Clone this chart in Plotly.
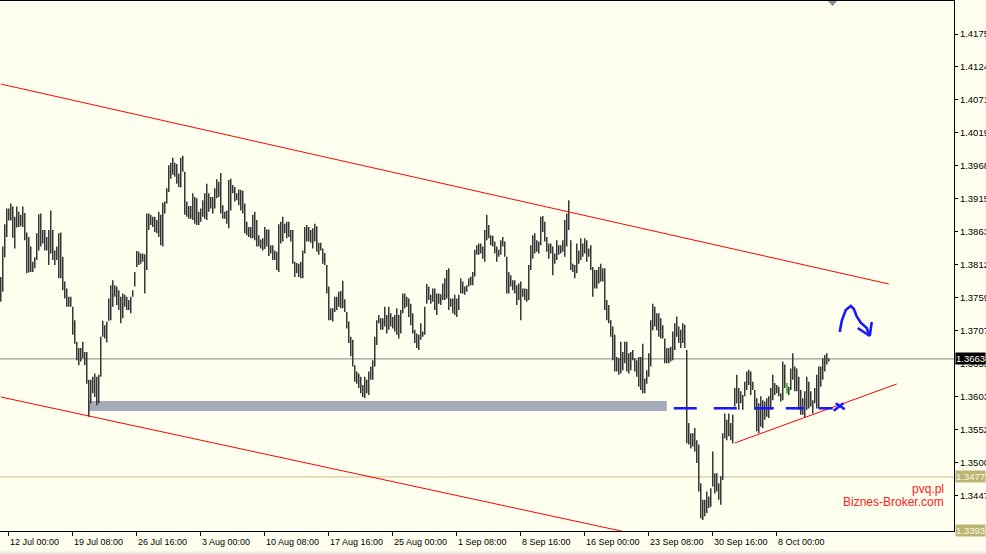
import plotly.graph_objects as go

# ---------------- data (H4 bars) ----------------
highs = [
    1.3792, 1.3840, 1.3875, 1.3900, 1.3900, 1.3908, 1.3903, 1.3887, 1.3903, 1.3895,
    1.3890, 1.3903, 1.3893, 1.3862, 1.3855, 1.3840, 1.3816, 1.3823, 1.3861, 1.3891,
    1.3892, 1.3866, 1.3866, 1.3855, 1.3866, 1.3897, 1.3866, 1.3834, 1.3840, 1.3861,
    1.3862, 1.3824, 1.3785, 1.3774, 1.3761, 1.3761, 1.3745, 1.3724, 1.3690, 1.3680,
    1.3680, 1.3690, 1.3674, 1.3674, 1.3630, 1.3630, 1.3635, 1.3640, 1.3635, 1.3638,
    1.3698, 1.3723, 1.3716, 1.3722, 1.3758, 1.3779, 1.3787, 1.3779, 1.3777, 1.3771,
    1.3761, 1.3766, 1.3764, 1.3761, 1.3756, 1.3761, 1.3771, 1.3800, 1.3833, 1.3832,
    1.3829, 1.3829, 1.3828, 1.3892, 1.3892, 1.3890, 1.3887, 1.3887, 1.3882, 1.3895,
    1.3890, 1.3909, 1.3911, 1.3932, 1.3968,
    1.3972, 1.3980, 1.3972, 1.3970, 1.3955, 1.3980, 1.3983, 1.3958, 1.3911, 1.3904,
    1.3904, 1.3924, 1.3918, 1.3916, 1.3895, 1.3900, 1.3913, 1.3924, 1.3939, 1.3924,
    1.3918, 1.3918, 1.3932, 1.3946, 1.3942, 1.3956, 1.3905, 1.3895, 1.3897, 1.3945,
    1.3947, 1.3937, 1.3934, 1.3924, 1.3930, 1.3929, 1.3928, 1.3908, 1.3879, 1.3871,
    1.3871, 1.3890, 1.3895, 1.3882, 1.3858, 1.3851, 1.3853, 1.3871, 1.3867, 1.3867,
    1.3842, 1.3842, 1.3834, 1.3832, 1.3875, 1.3879, 1.3887, 1.3876, 1.3879, 1.3879,
    1.3866, 1.3866, 1.3816, 1.3814, 1.3813, 1.3816, 1.3834, 1.3871, 1.3874, 1.3871,
    1.3866, 1.3869, 1.3876, 1.3872, 1.3846, 1.3846, 1.3837, 1.3830, 1.3811, 1.3777,
    1.3743, 1.3743, 1.3761,
    1.3761, 1.3769, 1.3770, 1.3786, 1.3757, 1.3737, 1.3722, 1.3698, 1.3693, 1.3653,
    1.3643, 1.3640, 1.3635, 1.3622, 1.3635, 1.3630, 1.3643, 1.3651, 1.3661, 1.3698,
    1.3724, 1.3732, 1.3727, 1.3727, 1.3745, 1.3732, 1.3745, 1.3735, 1.3729, 1.3732,
    1.3743, 1.3732, 1.3740, 1.3766, 1.3766, 1.3761, 1.3758, 1.3750, 1.3735, 1.3709,
    1.3703, 1.3701, 1.3719, 1.3706, 1.3745, 1.3781, 1.3777, 1.3764, 1.3774, 1.3774,
    1.3766, 1.3766, 1.3765, 1.3782, 1.3790, 1.3803, 1.3806, 1.3758, 1.3758, 1.3764,
    1.3758, 1.3764, 1.3790, 1.3785, 1.3777, 1.3779, 1.3790, 1.3793, 1.3800, 1.3835,
    1.3842, 1.3845, 1.3845, 1.3840, 1.3866, 1.3890, 1.3874, 1.3858, 1.3857, 1.3848,
    1.3840, 1.3835,
    1.3850, 1.3855, 1.3848, 1.3824, 1.3800, 1.3795, 1.3787, 1.3787, 1.3779, 1.3782,
    1.3785, 1.3774, 1.3774, 1.3773, 1.3811, 1.3842, 1.3858, 1.3861, 1.3850, 1.3848,
    1.3887, 1.3888, 1.3879, 1.3855, 1.3845, 1.3845, 1.3840, 1.3829, 1.3850, 1.3842,
    1.3842, 1.3850, 1.3882, 1.3892, 1.3913, 1.3850, 1.3813, 1.3811, 1.3845, 1.3834,
    1.3853, 1.3845, 1.3853, 1.3850, 1.3837, 1.3842, 1.3808, 1.3803, 1.3803, 1.3808,
    1.3813, 1.3806, 1.3806, 1.3756, 1.3748, 1.3724, 1.3714, 1.3701, 1.3666, 1.3664,
    1.3690, 1.3674, 1.3690, 1.3690, 1.3672, 1.3674, 1.3677, 1.3664, 1.3661, 1.3666,
    1.3666, 1.3687, 1.3632, 1.3645, 1.3672, 1.3724, 1.3750, 1.3745, 1.3735, 1.3735,
    1.3727, 1.3716, 1.3695,
    1.3680, 1.3680, 1.3682, 1.3706, 1.3719, 1.3730, 1.3714, 1.3709, 1.3719, 1.3717,
    1.3677, 1.3562, 1.3546, 1.3546, 1.3554, 1.3535, 1.3528, 1.3467, 1.3441, 1.3441,
    1.3454, 1.3446, 1.3459, 1.3517, 1.3483, 1.3483, 1.3467, 1.3478, 1.3546, 1.3577,
    1.3567, 1.3577, 1.3562, 1.3575, 1.3617, 1.3638, 1.3617, 1.3612, 1.3606, 1.3627,
    1.3643, 1.3646, 1.3643, 1.3627, 1.3614, 1.3601, 1.3593, 1.3604, 1.3598, 1.3596,
    1.3601, 1.3604, 1.3617, 1.3638, 1.3625, 1.3622, 1.3619, 1.3609, 1.3659, 1.3654,
    1.3625, 1.3619, 1.3648, 1.3672, 1.3651, 1.3648, 1.3635, 1.3614, 1.3601, 1.3612,
    1.3635, 1.3627, 1.3612, 1.3598, 1.3617, 1.3638, 1.3651, 1.3651, 1.3664, 1.3669,
    1.3672, 1.3664,
]

lows = [
    1.3753, 1.3769, 1.3823, 1.3855, 1.3881, 1.3881, 1.3854, 1.3837, 1.3870, 1.3871,
    1.3872, 1.3871, 1.3850, 1.3798, 1.3799, 1.3800, 1.3800, 1.3806, 1.3819, 1.3834,
    1.3840, 1.3845, 1.3834, 1.3834, 1.3811, 1.3829, 1.3819, 1.3811, 1.3819, 1.3790,
    1.3790, 1.3771, 1.3758, 1.3745, 1.3745, 1.3745, 1.3701, 1.3687, 1.3661, 1.3653,
    1.3659, 1.3664, 1.3653, 1.3624, 1.3572, 1.3593, 1.3609, 1.3603, 1.3590, 1.3593,
    1.3635, 1.3698, 1.3695, 1.3689, 1.3723, 1.3724, 1.3745, 1.3761, 1.3748, 1.3740,
    1.3719, 1.3727, 1.3745, 1.3740, 1.3740, 1.3735, 1.3761, 1.3777, 1.3808, 1.3811,
    1.3813, 1.3816, 1.3766, 1.3803, 1.3866, 1.3874, 1.3871, 1.3863, 1.3861, 1.3855,
    1.3842, 1.3840, 1.3892, 1.3908, 1.3926,
    1.3947, 1.3953, 1.3950, 1.3939, 1.3934, 1.3933, 1.3958, 1.3890, 1.3887, 1.3884,
    1.3884, 1.3882, 1.3876, 1.3874, 1.3874, 1.3879, 1.3887, 1.3884, 1.3882, 1.3895,
    1.3900, 1.3892, 1.3900, 1.3916, 1.3918, 1.3892, 1.3884, 1.3884, 1.3876, 1.3869,
    1.3897, 1.3924, 1.3911, 1.3913, 1.3905, 1.3897, 1.3892, 1.3861, 1.3858, 1.3855,
    1.3853, 1.3853, 1.3850, 1.3840, 1.3840, 1.3837, 1.3834, 1.3836, 1.3840, 1.3825,
    1.3829, 1.3819, 1.3819, 1.3803, 1.3800, 1.3845, 1.3848, 1.3861, 1.3853, 1.3855,
    1.3848, 1.3813, 1.3792, 1.3798, 1.3792, 1.3790, 1.3790, 1.3829, 1.3848, 1.3848,
    1.3846, 1.3837, 1.3848, 1.3832, 1.3827, 1.3834, 1.3813, 1.3811, 1.3766, 1.3724,
    1.3724, 1.3722, 1.3737,
    1.3740, 1.3745, 1.3743, 1.3743, 1.3737, 1.3711, 1.3688, 1.3667, 1.3651, 1.3627,
    1.3624, 1.3617, 1.3609, 1.3603, 1.3601, 1.3609, 1.3606, 1.3630, 1.3630, 1.3651,
    1.3685, 1.3719, 1.3709, 1.3709, 1.3714, 1.3703, 1.3709, 1.3714, 1.3711, 1.3706,
    1.3701, 1.3695, 1.3703, 1.3735, 1.3743, 1.3745, 1.3729, 1.3716, 1.3703, 1.3688,
    1.3680, 1.3677, 1.3693, 1.3698, 1.3701, 1.3750, 1.3756, 1.3750, 1.3753, 1.3740,
    1.3732, 1.3750, 1.3748, 1.3756, 1.3756, 1.3758, 1.3740, 1.3745, 1.3735, 1.3732,
    1.3729, 1.3740, 1.3766, 1.3766, 1.3764, 1.3769, 1.3777, 1.3779, 1.3779, 1.3793,
    1.3827, 1.3827, 1.3829, 1.3821, 1.3816, 1.3850, 1.3853, 1.3842, 1.3840, 1.3829,
    1.3816, 1.3824,
    1.3827, 1.3840, 1.3824, 1.3766, 1.3766, 1.3777, 1.3771, 1.3766, 1.3748, 1.3756,
    1.3724, 1.3761, 1.3756, 1.3753, 1.3756, 1.3803, 1.3821, 1.3829, 1.3832, 1.3829,
    1.3842, 1.3863, 1.3848, 1.3832, 1.3821, 1.3829, 1.3795, 1.3813, 1.3819, 1.3827,
    1.3829, 1.3832, 1.3824, 1.3840, 1.3866, 1.3803, 1.3800, 1.3790, 1.3798, 1.3813,
    1.3819, 1.3824, 1.3829, 1.3816, 1.3824, 1.3803, 1.3761, 1.3774, 1.3774, 1.3782,
    1.3785, 1.3785, 1.3740, 1.3724, 1.3719, 1.3698, 1.3661, 1.3643, 1.3643, 1.3638,
    1.3640, 1.3645, 1.3656, 1.3643, 1.3640, 1.3645, 1.3661, 1.3643, 1.3635, 1.3619,
    1.3614, 1.3609, 1.3609, 1.3624, 1.3635, 1.3651, 1.3708, 1.3714, 1.3708, 1.3698,
    1.3695, 1.3695, 1.3656,
    1.3656, 1.3656, 1.3659, 1.3661, 1.3677, 1.3698, 1.3688, 1.3680, 1.3688, 1.3680,
    1.3530, 1.3528, 1.3522, 1.3525, 1.3517, 1.3499, 1.3454, 1.3412, 1.3409, 1.3415,
    1.3420, 1.3428, 1.3430, 1.3462, 1.3451, 1.3454, 1.3441, 1.3433, 1.3472, 1.3538,
    1.3535, 1.3541, 1.3535, 1.3530, 1.3588, 1.3593, 1.3583, 1.3593, 1.3583, 1.3604,
    1.3614, 1.3622, 1.3606, 1.3614, 1.3583, 1.3549, 1.3546, 1.3556, 1.3554, 1.3567,
    1.3572, 1.3570, 1.3583, 1.3598, 1.3606, 1.3609, 1.3604, 1.3596, 1.3598, 1.3617,
    1.3609, 1.3606, 1.3614, 1.3630, 1.3612, 1.3612, 1.3583, 1.3575, 1.3575, 1.3570,
    1.3583, 1.3585, 1.3588, 1.3577, 1.3593, 1.3585, 1.3585, 1.3619, 1.3630, 1.3643,
    1.3654, 1.3659,
]

green_bars = [393]

date_tick_idx = [4, 36, 68, 100, 132, 164, 196, 228, 260, 292, 324, 356, 388]
date_tick_text = ["12 Jul 00:00", "19 Jul 08:00", "26 Jul 16:00", "3 Aug 00:00",
                  "10 Aug 08:00", "17 Aug 16:00", "25 Aug 00:00", "1 Sep 08:00",
                  "8 Sep 16:00", "16 Sep 00:00", "23 Sep 08:00", "30 Sep 16:00",
                  "8 Oct 00:00"]

price_ticks = [1.4175, 1.4124, 1.4071, 1.4019, 1.3968, 1.3915, 1.3863, 1.3812,
               1.3759, 1.3707, 1.3655, 1.3603, 1.3552, 1.3500, 1.3447]

current_price = 1.3663
level_prices = [1.3477, 1.3393]

# drawing objects (bar index, price)
upper_channel_x = [0, 444]
upper_channel_y = [1.40962, 1.37811]
lower_channel_x = [0, 330]
lower_channel_y = [1.36030, 1.33783]
support_line_x = [367, 448]
support_line_y = [1.35305, 1.36235]
zone_x = [44, 333]
zone_y = [1.35809, 1.35967]
blue_dash_segments = [(336.5, 348), (356.5, 368), (377, 386.5), (392.5, 401.5), (409, 416)]
blue_dash_price = 1.35852
blue_x_mark = [((417.5, 1.35931), (422, 1.35836)), ((416.5, 1.35814), (421.3, 1.35931))]
arrow_path_x = [419.5, 420.5, 422.5, 425, 426.5, 428, 430, 433, 434.5]
arrow_path_y = [1.37054, 1.37230, 1.37400, 1.37464, 1.37420, 1.37300, 1.37200, 1.37117, 1.36991]
arrow_head = [((428.5, 1.37117), (434.5, 1.36991)), ((435.5, 1.37212), (434.5, 1.36991))]

# ---------------- figure ----------------
BG = "#fffff0"
FONT = "Liberation Sans"

bx, by = [], []
for j, (h, l) in enumerate(zip(highs, lows)):
    bx += [j, j, None]
    by += [l, h, None]

gx, gy = [], []
for j in green_bars:
    gx += [j, j, None]
    gy += [lows[j], highs[j], None]

fig = go.Figure()
fig.add_trace(go.Scatter(x=bx, y=by, mode="lines", line=dict(color="#363636", width=1.5),
                         hoverinfo="skip", showlegend=False))
fig.add_trace(go.Scatter(x=gx, y=gy, mode="lines", line=dict(color="#22dd22", width=1.5),
                         hoverinfo="skip", showlegend=False))

for xs, ys in [(upper_channel_x, upper_channel_y), (lower_channel_x, lower_channel_y),
               (support_line_x, support_line_y)]:
    fig.add_trace(go.Scatter(x=xs, y=ys, mode="lines", line=dict(color="#ff0000", width=1),
                             hoverinfo="skip", showlegend=False))

BLUE = "#1a1aff"
dx, dy = [], []
for a, b in blue_dash_segments:
    dx += [a, b, None]
    dy += [blue_dash_price, blue_dash_price, None]
for (p, q) in blue_x_mark + arrow_head:
    dx += [p[0], q[0], None]
    dy += [p[1], q[1], None]
fig.add_trace(go.Scatter(x=dx, y=dy, mode="lines", line=dict(color=BLUE, width=2.6),
                         hoverinfo="skip", showlegend=False))
fig.add_trace(go.Scatter(x=arrow_path_x, y=arrow_path_y, mode="lines",
                         line=dict(color=BLUE, width=2.6),
                         hoverinfo="skip", showlegend=False))

shapes = [
    dict(type="rect", xref="x", yref="y", x0=zone_x[0], x1=zone_x[1], y0=zone_y[0], y1=zone_y[1],
         fillcolor="#a4abbb", line=dict(width=0), layer="below"),
    dict(type="line", xref="paper", yref="y", x0=0, x1=1, y0=current_price, y1=current_price,
         line=dict(color="#7d8088", width=1), layer="below"),
    dict(type="line", xref="paper", yref="y", x0=0, x1=1, y0=level_prices[0], y1=level_prices[0],
         line=dict(color="#c8c28a", width=1), layer="below"),
    dict(type="path", xref="paper", yref="paper",
         path="M 0.8679,1 L 0.8774,1 L 0.8726,0.9906 Z",
         fillcolor="#7f8a9a", line=dict(width=0)),
    dict(type="rect", xref="paper", yref="paper", x0=-0.01, x1=1.06, y0=-0.0385, y1=-0.06,
         fillcolor="#ececec", line=dict(width=0)),
]

annotations = []
for idx, lab in zip(date_tick_idx, date_tick_text):
    annotations.append(dict(x=idx, xref="x", y=0, yref="paper", yanchor="top", yshift=-4,
                            xanchor="left", xshift=-1, text=lab, showarrow=False,
                            font=dict(family=FONT, size=9, color="#000000")))

annotations.append(dict(x=1, xref="paper", y=current_price, yref="y", xanchor="left", xshift=1,
                        yanchor="middle", text=f"{current_price:.4f}", showarrow=False,
                        bgcolor="#000000", borderpad=0,
                        font=dict(family=FONT, size=9.5, color="#ffffff")))
for lp in level_prices:
    annotations.append(dict(x=1, xref="paper", y=lp, yref="y", xanchor="left", xshift=1,
                            yanchor="middle", text=f"{lp:.4f}", showarrow=False,
                            bgcolor="#bdb672", borderpad=0,
                            font=dict(family=FONT, size=9.5, color="#f6f6e8")))

annotations.append(dict(x=0.992, xref="paper", y=0.080, yref="paper", xanchor="right",
                        yanchor="middle", text="pvq.pl", showarrow=False,
                        font=dict(family=FONT, size=12, color="#ff2020")))
annotations.append(dict(x=0.992, xref="paper", y=0.054, yref="paper", xanchor="right",
                        yanchor="middle", text="Biznes-Broker.com", showarrow=False,
                        font=dict(family=FONT, size=12, color="#ff2020")))

fig.update_layout(
    width=986, height=554,
    margin=dict(l=0, r=32, t=1, b=23, autoexpand=False),
    paper_bgcolor=BG, plot_bgcolor=BG,
    showlegend=False,
    shapes=shapes,
    annotations=annotations,
    xaxis=dict(range=[-0.375, 476.625], showgrid=False, zeroline=False, automargin=False,
               showline=True, mirror=True, linecolor="#000000", linewidth=1,
               tickmode="array", tickvals=date_tick_idx, ticktext=[""] * len(date_tick_idx),
               ticks="outside", ticklen=4, tickcolor="#000000", fixedrange=True),
    yaxis=dict(range=[1.33918, 1.42270], side="right", showgrid=False, zeroline=False,
               automargin=False,
               showline=True, linecolor="#000000", linewidth=1,
               tickmode="array", tickvals=price_ticks,
               ticktext=[f"{p:.4f}" for p in price_ticks],
               ticks="outside", ticklen=3, tickcolor="#000000",
               tickfont=dict(family=FONT, size=9.5, color="#000000"), fixedrange=True),
    hovermode=False,
)

fig.write_html(
    "out.html",
    config={"displayModeBar": False},
    post_script="document.body.style.margin='0';document.body.style.padding='0';"
                "document.body.style.overflow='hidden';",
)
